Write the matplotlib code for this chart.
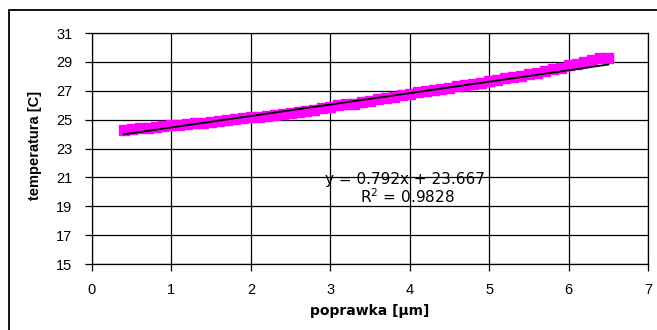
import matplotlib
matplotlib.use("Agg")
import matplotlib.pyplot as plt
from matplotlib.patches import Rectangle
import numpy as np

plt.rcParams['font.family'] = ['Liberation Sans', 'DejaVu Sans']

x_vals = [0.4, 0.5, 0.6, 0.7, 0.8, 0.9, 1.0, 1.1, 1.2, 1.3, 1.4, 1.5, 1.6, 1.7, 1.8, 1.9,
          2.0, 2.1, 2.2, 2.3, 2.4, 2.5, 2.6, 2.7, 2.8, 2.9, 3.0, 3.1, 3.2, 3.3, 3.4, 3.5,
          3.6, 3.7, 3.8, 3.9, 4.0, 4.1, 4.2, 4.3, 4.4, 4.5, 4.6, 4.7, 4.8, 4.9, 5.0, 5.1,
          5.2, 5.3, 5.4, 5.5, 5.6, 5.7, 5.8, 5.9, 6.0, 6.1, 6.2, 6.3, 6.4, 6.5]
y_vals = [24.3, 24.35, 24.4, 24.45, 24.5, 24.55, 24.6, 24.65, 24.7, 24.75, 24.8, 24.85,
          24.9, 25.0, 25.05, 25.1, 25.15, 25.2, 25.25, 25.3, 25.4, 25.45, 25.5, 25.6,
          25.7, 25.8, 25.9, 26.0, 26.05, 26.1, 26.2, 26.3, 26.4, 26.5, 26.6, 26.7,
          26.8, 26.9, 26.95, 27.05, 27.1, 27.2, 27.3, 27.4, 27.5, 27.55, 27.65, 27.75,
          27.85, 27.95, 28.05, 28.15, 28.25, 28.35, 28.5, 28.6, 28.75, 28.85, 29.0,
          29.15, 29.25, 29.25]
slope = 0.792
intercept = 23.667
r2 = 0.9828
x_ticks = [0, 1, 2, 3, 4, 5, 6, 7]
y_ticks = [15, 17, 19, 21, 23, 25, 27, 29, 31]

W, H = 657, 330
fig = plt.figure(figsize=(W / 100, H / 100), dpi=100)
fig.patch.set_facecolor('white')

# outer chart frame (cut at right/bottom)
fig.patches.append(Rectangle((9 / W, -0.1), 1.2, (H - 10) / H + 0.1, transform=fig.transFigure,
                             fill=False, edgecolor='black', linewidth=1.3))

ax = fig.add_axes([92 / W, 1 - 264 / H, (648 - 92) / W, (264 - 33) / H])
ax.set_xlim(0, 7)
ax.set_ylim(15, 31)
ax.set_xticks(x_ticks)
ax.set_yticks(y_ticks)
ax.grid(True, color='black', linewidth=0.9)
ax.set_axisbelow(True)
for s in ax.spines.values():
    s.set_color('black')
    s.set_linewidth(0.9)
ax.tick_params(direction='out', length=5, width=0.9, labelsize=10.5, colors='black', pad=9)

ax.plot(x_vals, y_vals, linestyle='none', marker='s', markersize=7, color='#FF00FF',
        markeredgecolor='#FF00FF', zorder=3)
xl = np.array([min(x_vals), max(x_vals)])
ax.plot(xl, slope * xl + intercept, color='black', linewidth=1.3, zorder=4)

ax.text(3.94, 20.54, f'y = {slope}x + {intercept}', ha='center', va='baseline',
        fontsize=11, family=['DejaVu Sans'], zorder=5)
ax.text(3.97, 19.21, f'R$^2$ = {r2}', ha='center', va='baseline',
        fontsize=11, family=['DejaVu Sans'], zorder=5)

ax.set_xlabel('poprawka [µm]', fontsize=10, fontweight='bold', family=['DejaVu Sans'])
ax.xaxis.set_label_coords(0.5, -(311 - 264) / (264 - 33), transform=ax.transAxes)
ax.xaxis.label.set_va('center')
ax.set_ylabel('temperatura [C]', fontsize=10.5, fontweight='bold')
ax.yaxis.set_label_coords(-(92 - 35) / (648 - 92), (264 - 145) / (264 - 33), transform=ax.transAxes)
ax.yaxis.label.set_va('center')

fig.savefig('out.png', dpi=100)
